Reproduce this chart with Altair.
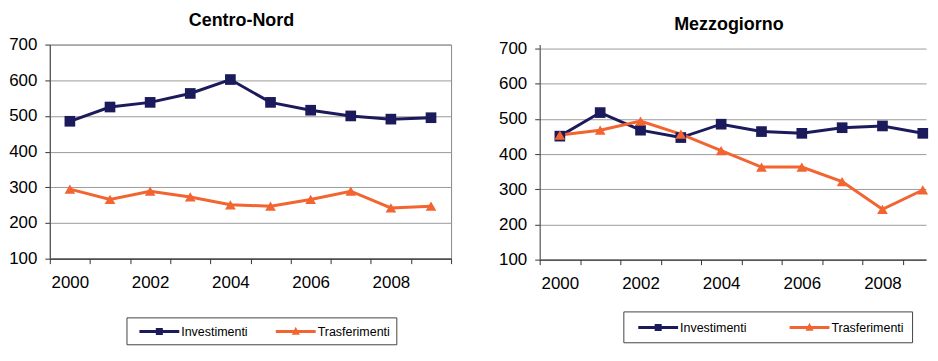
import altair as alt
import pandas as pd

years = list(range(2000, 2010))
series_names = ["Investimenti", "Trasferimenti"]
series_colors = ["#1b1b5c", "#f26430"]
series_shapes = ["square", "triangle-up"]

cn_investimenti = [485, 525, 538, 563, 602, 538, 516, 500, 491, 495]
cn_trasferimenti = [295, 266, 289, 273, 251, 247, 266, 289, 242, 247]
mz_investimenti = [451, 518, 468, 447, 485, 464, 459, 475, 480, 459]
mz_trasferimenti = [454, 468, 494, 457, 410, 363, 363, 322, 243, 298]

y_ticks = [100, 200, 300, 400, 500, 600, 700]

# legend symbols: a line with a marker in the middle
SQ_PATH = "M-0.125,-0.19H4.875V0.19H-0.125Z M1.935,-0.44H2.815V0.44H1.935Z"
TRI_PATH = "M-0.125,-0.19H4.875V0.19H-0.125Z M2.375,-0.6L2.875,0.4H1.875Z"

FONT = "Liberation Sans"


def make_df(inv, tra):
    rows = []
    for y, v in zip(years, inv):
        rows.append({"anno": y, "valore": v, "serie": series_names[0]})
    for y, v in zip(years, tra):
        rows.append({"anno": y, "valore": v, "serie": series_names[1]})
    return pd.DataFrame(rows)


def panel(df, title, width, height, x_domain, y_domain, title_offset, title_dx,
          legend_x, legend_y, legend_pad, col_pad, view_stroke):
    tick_vals = [v / 2 for v in range(int(x_domain[0] * 2), int(x_domain[1] * 2) + 1)]
    x = alt.X(
        "anno:Q",
        scale=alt.Scale(domain=x_domain, nice=False, zero=False),
        axis=alt.Axis(
            title=None, values=tick_vals, grid=False,
            labelExpr="datum.value % 2 == 0 ? datum.value : ''",
            labelFont=FONT, labelFontSize=17, labelColor="#000",
            labelPadding=11, labelFlush=False, labelOverlap=False,
            tickSize=5, tickColor="#333",
            tickOpacity=alt.condition("datum.value % 1 == 0", alt.value(0), alt.value(1)),
            domainColor="#333", domainWidth=1.2,
        ),
    )
    y = alt.Y(
        "valore:Q",
        scale=alt.Scale(domain=y_domain, nice=False, zero=False),
        axis=alt.Axis(
            title=None, values=y_ticks, grid=True, gridColor="#9a9a9a",
            labelFont=FONT, labelFontSize=17, labelColor="#000",
            labelPadding=8, tickSize=5, tickColor="#333",
            domainColor="#555", domainWidth=1.2,
        ),
    )
    color_scale = alt.Scale(domain=series_names, range=series_colors)
    legend = alt.Legend(
        title=None, orient="none", direction="horizontal",
        legendX=legend_x, legendY=legend_y,
        padding=legend_pad, columnPadding=col_pad,
        strokeColor="#444", fillColor="#fff",
        symbolSize=256, labelOffset=33, symbolStrokeWidth=0,
        labelFont=FONT, labelFontSize=12.5, labelColor="#000",
    )
    base = alt.Chart(df)
    line = base.mark_line(strokeWidth=3).encode(
        x=x, y=y,
        color=alt.Color("serie:N", scale=color_scale),
    )
    layers = [line]
    for name, shp in zip(series_names, series_shapes):
        layers.append(
            base.transform_filter(alt.datum.serie == name)
            .mark_point(filled=True, opacity=1, size=115, shape=shp)
            .encode(x=x, y=y, color=alt.Color("serie:N", scale=color_scale))
        )
    legend_layer = base.transform_filter("false").mark_point(filled=True, opacity=1).encode(
        x=x, y=y,
        color=alt.Color("serie:N", scale=color_scale, legend=legend),
        shape=alt.Shape("serie:N", scale=alt.Scale(domain=series_names, range=[SQ_PATH, TRI_PATH]),
                        legend=legend),
    )
    layers.append(legend_layer)
    return alt.layer(*layers).properties(
        width=width, height=height,
        title=alt.TitleParams(
            text=title, font=FONT, fontSize=18, fontWeight="bold", color="#000",
            anchor="middle", offset=title_offset, dx=title_dx,
        ),
        view=alt.ViewBackground(stroke=view_stroke, strokeWidth=1),
    )


left = panel(make_df(cn_investimenti, cn_trasferimenti), "Centro-Nord",
             403, 215, [1999.5, 2009.5], [100, 700], 6, -9,
             77, 274, 6, 21, "#888")
right = panel(make_df(mz_investimenti, mz_trasferimenti), "Mezzogiorno",
              388, 216, [1999.5, 2009.08], [100, 711.3], 6, -4,
              84, 268, 8, 36, "transparent")

chart = alt.hconcat(left, right, spacing=46).resolve_scale(
    color="independent", shape="independent"
).resolve_legend(color="independent", shape="independent").properties(
    padding={"left": 0, "top": 2, "right": 0, "bottom": 0}
).configure_view(strokeWidth=1)

chart.save("out.html", embed_options={"renderer": "svg", "actions": False})
